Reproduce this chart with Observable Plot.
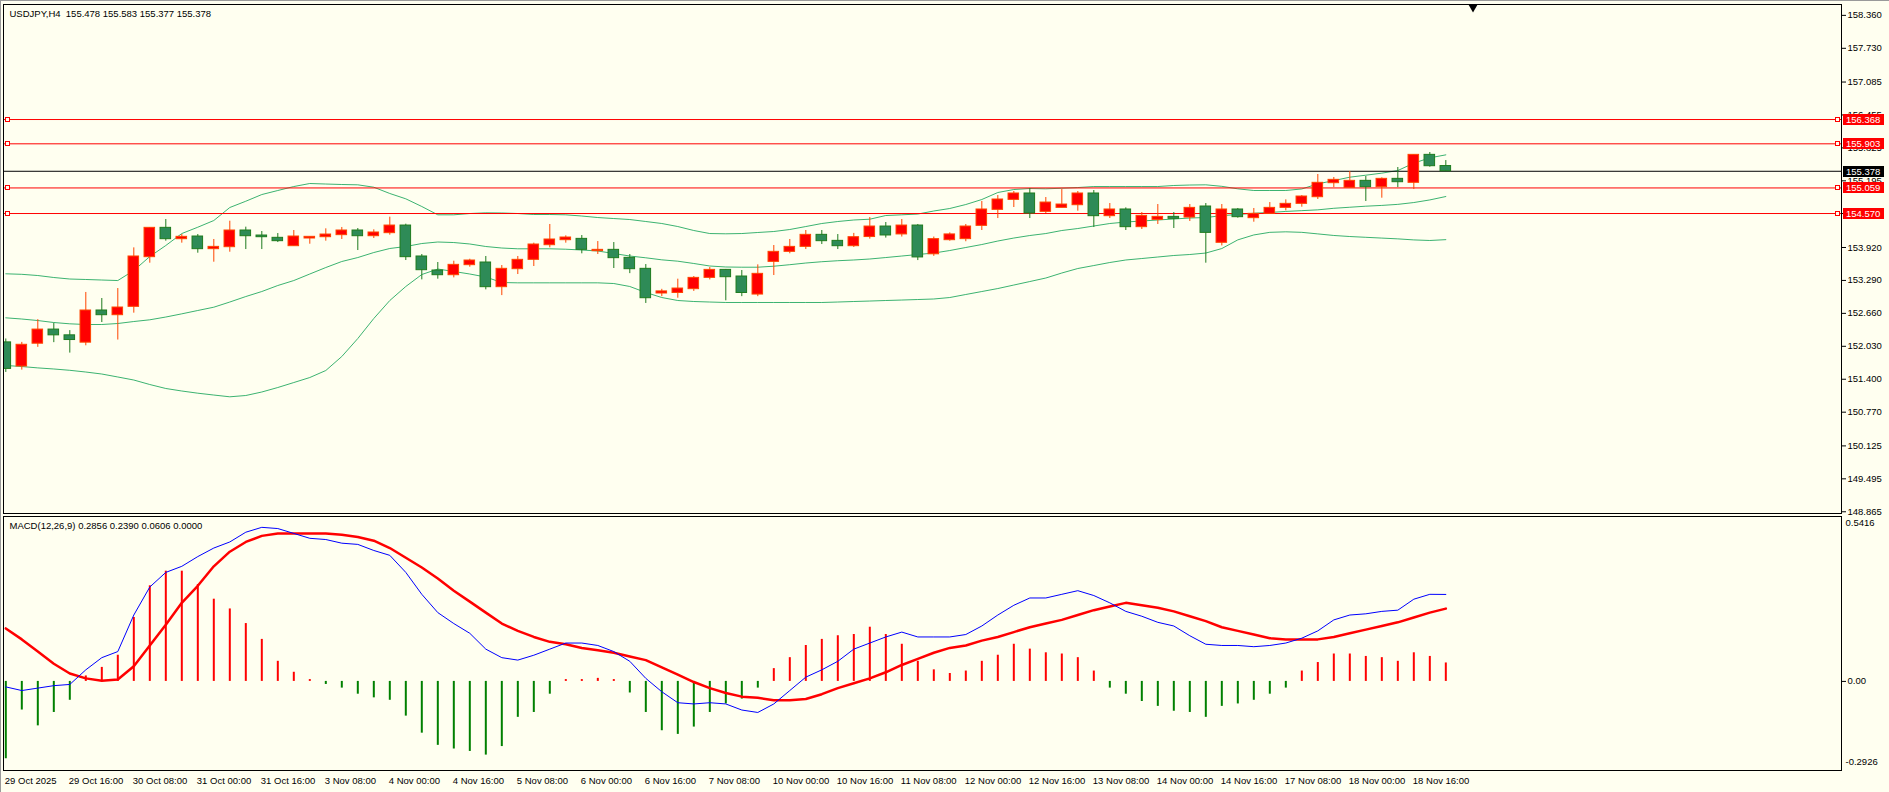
<!DOCTYPE html>
<html><head><meta charset="utf-8">
<script src="https://cdn.jsdelivr.net/npm/d3@7"></script>
<script src="https://cdn.jsdelivr.net/npm/@observablehq/plot@0.6"></script>
<style>
html,body{margin:0;padding:0;background:#FFFFF0;}
#wrap{position:relative;width:1889px;height:792px;overflow:hidden;background:#FFFFF0;}
#wrap svg{display:block;overflow:visible;}
.edgeTop{position:absolute;left:0;top:0;width:1889px;height:1px;background:#9A9A9A;}
.edgeLeft{position:absolute;left:0;top:0;width:1px;height:792px;background:#9A9A9A;}
</style></head><body>
<div id="wrap"><div class="edgeTop"></div><div class="edgeLeft"></div></div>
<script>
// ---------------- data ----------------
const symbolTitle = "USDJPY,H4  155.478 155.583 155.377 155.378";
const macdTitle = "MACD(12,26,9) 0.2856 0.2390 0.0606 0.0000";

const open = [
152.105,151.644,152.08,152.35,152.24,152.10,152.715,152.625,152.785,153.735,
154.296,154.079,154.130,153.888,153.926,154.245,154.149,154.105,153.945,154.092,
154.117,154.156,154.245,154.136,154.194,154.340,153.748,153.480,153.390,153.582,
153.633,153.161,153.505,153.684,153.964,154.060,154.085,153.850,153.875,153.722,
153.512,153.04,153.05,153.123,153.339,153.492,153.365,153.02,153.645,153.837,
153.932,154.162,154.047,153.945,154.12,154.321,154.17,154.340,153.79,154.06,
154.08,154.334,154.640,154.831,154.953,154.602,154.678,154.729,154.953,154.519,
154.647,154.309,154.449,154.506,154.493,154.704,154.01,154.647,154.481,154.564,
154.678,154.755,154.882,155.150,155.061,155.195,155.074,155.233,155.157,155.692,
155.478];
const high = [
152.17,152.105,152.54,152.47,152.33,153.06,152.944,153.135,153.913,154.30,
154.455,154.168,154.168,154.073,154.423,154.309,154.226,154.187,154.245,154.124,
154.277,154.303,154.283,154.258,154.500,154.366,153.786,153.633,153.658,153.696,
153.748,153.575,153.748,154.003,154.360,154.143,154.149,154.034,154.015,153.786,
153.594,153.12,153.314,153.365,153.537,153.50,153.480,153.588,153.958,154.073,
154.245,154.245,154.168,154.19,154.493,154.398,154.455,154.36,154.12,154.20,
154.36,154.800,154.914,154.991,155.048,154.876,155.029,154.991,155.010,154.761,
154.678,154.589,154.742,154.589,154.742,154.761,154.742,154.666,154.666,154.780,
154.831,154.914,155.316,155.259,155.373,155.278,155.252,155.450,155.692,155.737,
155.583];
const low = [
151.53,151.575,152.01,152.10,151.90,152.04,152.485,152.15,152.664,153.620,
154.041,154.003,153.811,153.639,153.830,153.881,153.881,154.015,153.945,153.983,
154.041,154.073,153.862,154.092,154.156,153.671,153.301,153.314,153.339,153.543,
153.110,153.00,153.403,153.556,153.913,154.003,153.799,153.786,153.518,153.42,
152.85,152.98,152.95,153.08,153.30,152.90,152.98,152.98,153.384,153.80,
153.881,153.977,153.881,153.92,154.08,154.10,154.12,153.67,153.75,154.04,
154.03,154.245,154.474,154.685,154.474,154.570,154.678,154.615,154.302,154.474,
154.245,154.264,154.360,154.283,154.417,153.62,153.95,154.481,154.404,154.56,
154.621,154.691,154.838,155.067,155.061,154.800,154.863,155.067,155.029,155.456,
155.377];
const close = [
151.598,152.059,152.35,152.24,152.15,152.715,152.625,152.772,153.748,154.296,
154.079,154.124,153.888,153.932,154.245,154.136,154.117,154.041,154.130,154.124,
154.168,154.245,154.136,154.207,154.340,153.735,153.486,153.390,153.588,153.671,
153.161,153.512,153.684,153.977,154.073,154.111,153.875,153.875,153.716,153.505,
152.95,153.08,153.135,153.339,153.492,153.352,153.05,153.416,153.837,153.932,
154.162,154.041,153.945,154.117,154.321,154.15,154.340,153.73,154.08,154.17,
154.321,154.647,154.838,154.953,154.570,154.780,154.742,154.953,154.519,154.647,
154.309,154.525,154.506,154.468,154.678,154.20,154.647,154.500,154.564,154.678,
154.755,154.895,155.157,155.214,155.195,155.074,155.233,155.169,155.692,155.475,
155.378];

const bbUpper = [
153.417,153.407,153.384,153.346,153.317,153.308,153.298,153.288,153.480,153.747,
153.958,154.187,154.308,154.436,154.685,154.805,154.933,155.010,155.086,155.144,
155.134,155.125,155.119,155.073,154.953,154.851,154.704,154.545,154.545,154.570,
154.583,154.580,154.570,154.551,154.551,154.545,154.522,154.493,154.474,154.455,
154.417,154.379,154.321,154.245,154.187,154.182,154.187,154.207,154.226,154.264,
154.321,154.379,154.417,154.446,154.461,154.532,154.545,154.560,154.618,154.666,
154.742,154.838,154.972,155.029,155.048,155.042,155.054,155.067,155.086,155.086,
155.086,155.086,155.086,155.106,155.115,155.119,155.090,155.042,155.010,155.010,
155.010,155.040,155.137,155.200,155.265,155.303,155.342,155.392,155.533,155.635,
155.692];
const bbMiddle = [
152.575,152.552,152.523,152.485,152.460,152.447,152.447,152.466,152.504,152.537,
152.590,152.651,152.715,152.778,152.877,152.982,153.078,153.193,153.288,153.413,
153.537,153.652,153.728,153.824,153.901,153.939,153.996,154.025,154.015,153.987,
153.939,153.910,153.895,153.895,153.895,153.887,153.872,153.853,153.805,153.757,
153.723,153.684,153.658,153.614,153.566,153.547,153.543,153.543,153.562,153.591,
153.623,153.648,153.667,153.681,153.700,153.728,153.757,153.786,153.814,153.862,
153.920,153.977,154.044,154.101,154.149,154.187,154.245,154.283,154.331,154.379,
154.407,154.427,154.446,154.465,154.484,154.493,154.530,154.550,154.575,154.590,
154.610,154.625,154.640,154.670,154.690,154.710,154.725,154.745,154.780,154.830,
154.895];
const bbLower = [
151.663,151.643,151.617,151.596,151.571,151.538,151.500,151.443,151.385,151.299,
151.223,151.175,151.133,151.098,151.064,151.089,151.156,151.242,151.337,151.433,
151.567,151.835,152.179,152.562,152.906,153.174,153.403,153.508,153.461,153.413,
153.355,153.250,153.244,153.244,153.244,153.244,153.244,153.244,153.231,153.174,
153.059,152.963,152.906,152.887,152.877,152.868,152.868,152.868,152.868,152.868,
152.868,152.868,152.877,152.887,152.896,152.906,152.915,152.925,152.935,152.963,
153.021,153.078,153.135,153.202,153.269,153.336,153.432,153.518,153.575,153.633,
153.681,153.709,153.738,153.767,153.786,153.814,153.900,154.066,154.160,154.210,
154.220,154.210,154.180,154.150,154.130,154.115,154.100,154.085,154.065,154.054,
154.070];

const macdLine = [
-0.018,-0.030,-0.022,-0.014,-0.010,0.038,0.078,0.098,0.218,0.310,
0.358,0.378,0.410,0.438,0.458,0.490,0.506,0.502,0.486,0.470,
0.466,0.454,0.450,0.430,0.414,0.358,0.286,0.226,0.190,0.158,
0.106,0.078,0.070,0.086,0.106,0.126,0.126,0.118,0.098,0.066,
0.010,-0.034,-0.070,-0.074,-0.070,-0.074,-0.094,-0.102,-0.074,-0.030,
0.014,0.038,0.066,0.106,0.126,0.146,0.162,0.146,0.146,0.146,
0.154,0.182,0.218,0.250,0.274,0.274,0.286,0.298,0.282,0.258,
0.230,0.214,0.194,0.182,0.150,0.122,0.118,0.118,0.114,0.118,
0.126,0.142,0.166,0.202,0.218,0.222,0.230,0.234,0.270,0.286,
0.2856];
const signalLine = [
0.174,0.138,0.098,0.058,0.026,0.010,0.002,0.006,0.050,0.118,
0.186,0.258,0.314,0.378,0.426,0.458,0.478,0.486,0.486,0.486,
0.486,0.482,0.474,0.462,0.438,0.406,0.374,0.338,0.298,0.262,
0.226,0.190,0.166,0.146,0.130,0.122,0.110,0.102,0.094,0.082,
0.070,0.046,0.022,-0.002,-0.022,-0.038,-0.050,-0.054,-0.062,-0.062,
-0.058,-0.042,-0.022,-0.006,0.010,0.030,0.054,0.074,0.094,0.110,
0.118,0.134,0.146,0.162,0.178,0.190,0.202,0.218,0.234,0.246,
0.258,0.250,0.242,0.230,0.214,0.198,0.178,0.166,0.154,0.142,
0.138,0.138,0.138,0.146,0.158,0.170,0.182,0.194,0.210,0.226,
0.239];
const histogram = [
-0.254,-0.094,-0.146,-0.102,-0.062,0.018,0.046,0.086,0.210,0.314,
0.362,0.362,0.318,0.270,0.238,0.190,0.138,0.066,0.030,0.006,
-0.010,-0.022,-0.042,-0.054,-0.062,-0.114,-0.170,-0.210,-0.222,-0.230,
-0.242,-0.214,-0.118,-0.102,-0.042,0.006,0.006,0.010,0.006,-0.038,
-0.102,-0.162,-0.174,-0.150,-0.102,-0.074,-0.058,-0.022,0.042,0.078,
0.118,0.138,0.150,0.154,0.178,0.154,0.122,0.066,0.038,0.026,
0.034,0.066,0.086,0.122,0.106,0.094,0.090,0.078,0.034,-0.022,
-0.042,-0.066,-0.082,-0.098,-0.102,-0.118,-0.082,-0.074,-0.062,-0.042,
-0.022,0.034,0.062,0.090,0.090,0.082,0.078,0.066,0.094,0.082,
0.0606];

const priceTicks = [158.360,157.730,157.085,156.455,155.825,155.195,154.570,153.920,153.290,152.660,152.030,151.400,150.770,150.125,149.495,148.865];
const levels = [156.368,155.903,155.059,154.570];
const bid = 155.378;
const macdRange = [-0.2926, 0.5416];
const timeLabels = ["29 Oct 2025","29 Oct 16:00","30 Oct 08:00","31 Oct 00:00","31 Oct 16:00","3 Nov 08:00","4 Nov 00:00","4 Nov 16:00","5 Nov 08:00","6 Nov 00:00","6 Nov 16:00","7 Nov 08:00","10 Nov 00:00","10 Nov 16:00","11 Nov 08:00","12 Nov 00:00","12 Nov 16:00","13 Nov 08:00","14 Nov 00:00","14 Nov 16:00","17 Nov 08:00","18 Nov 00:00","18 Nov 16:00"];
const barsPerLabel = 4;
const chartShiftBar = 91.7;

// ---------------- build ----------------
const bars = open.map((o, i) => ({
  i, o, h: high[i], l: low[i], c: close[i],
  up: bbUpper[i], mid: bbMiddle[i], lo: bbLower[i],
  m: macdLine[i], s: signalLine[i], hs: histogram[i]
}));
const timeTicks = timeLabels.map((t, k) => ({t, i: k * barsPerLabel}));

const FONT = "'Liberation Sans', Arial, sans-serif";
const FS = 9.5;
const W = 1889;
const xDomain = [-0.144, 114.73];
const BULL_FILL = "#FF0000", BULL_LINE = "#FF4500";
const BEAR_FILL = "#2E8B57", BEAR_LINE = "#1E7B1E";
const BAND = "#3CB371";

function priceTags(items) {
  return (index, scales, values, dim) => {
    const g = d3.create("svg:g");
    const x0 = dim.width - dim.marginRight + 2;
    for (const t of items) {
      const y = Math.round(scales.y(t.v)) + 0.5;
      g.append("rect").attr("x", x0).attr("y", y - 5.5).attr("width", 41).attr("height", 11).attr("fill", t.bg);
      g.append("text").attr("x", x0 + 3).attr("y", y).attr("dy", "0.35em").attr("text-anchor", "start")
        .attr("fill", "#fff").attr("font-size", FS).attr("font-family", FONT).text(t.v.toFixed(3));
    }
    return g.node();
  };
}

function levelMarkers(vals) {
  return (index, scales, values, dim) => {
    const g = d3.create("svg:g").attr("shape-rendering", "crispEdges");
    const xl = dim.marginLeft + 2, xr = dim.width - dim.marginRight - 6;
    for (const v of vals) {
      const y = Math.round(scales.y(v));
      for (const x of [xl, xr]) {
        g.append("rect").attr("x", x + 0.5).attr("y", y - 2 + 0.5).attr("width", 4).attr("height", 4)
          .attr("fill", "#FFFFF0").attr("stroke", "#FF0000").attr("stroke-width", 1);
      }
    }
    return g.node();
  };
}

const tagItems = [
  ...levels.map(v => ({v, bg: "#FF0000"})),
  {v: bid, bg: "#000000"}
];

const main = Plot.plot({
  width: W, height: 515,
  marginTop: 4, marginBottom: 2, marginLeft: 3, marginRight: 48,
  style: {background: "transparent", fontFamily: FONT, fontSize: FS + "px", color: "#000", overflow: "visible"},
  x: {domain: xDomain, axis: null},
  y: {domain: [148.832, 158.568], axis: null},
  marks: [
    Plot.line(bars, {x: "i", y: "up", stroke: BAND, strokeWidth: 1, clip: true}),
    Plot.line(bars, {x: "i", y: "mid", stroke: BAND, strokeWidth: 1, clip: true}),
    Plot.line(bars, {x: "i", y: "lo", stroke: BAND, strokeWidth: 1, clip: true}),
    Plot.ruleY(levels, {stroke: "#FF0000", strokeWidth: 1}),
    Plot.ruleY([bid], {stroke: "#000", strokeWidth: 1}),
    Plot.ruleX(bars, {x: "i", y1: "l", y2: "h", stroke: d => d.c > d.o ? BULL_LINE : BEAR_LINE, strokeWidth: 1, clip: true}),
    Plot.rect(bars, {
      x1: d => d.i - 0.33, x2: d => d.i + 0.33,
      y1: "o", y2: "c",
      fill: d => d.c > d.o ? BULL_FILL : BEAR_FILL,
      stroke: d => d.c > d.o ? BULL_LINE : BEAR_LINE,
      strokeWidth: 1, clip: true
    }),
    levelMarkers(levels),
    Plot.frame({stroke: "#000", strokeWidth: 1}),
    Plot.axisY(priceTicks, {anchor: "right", tickSize: 4, tickPadding: 2, label: null, tickFormat: d => d.toFixed(3), fontSize: FS, stroke: "#000"}),
    priceTags(tagItems),
    Plot.text([symbolTitle], {frameAnchor: "top-left", dx: 6, dy: 9, textAnchor: "start", lineAnchor: "middle", fill: "#000", fontSize: FS}),
    Plot.dot([chartShiftBar], {x: d => d, frameAnchor: "top", dy: 3, symbol: "triangle", rotate: 180, r: 3.2, fill: "#000", stroke: "none"})
  ]
});

const macd = Plot.plot({
  width: W, height: 277,
  marginTop: 1, marginBottom: 22, marginLeft: 3, marginRight: 48,
  style: {background: "transparent", fontFamily: FONT, fontSize: FS + "px", color: "#000", overflow: "visible"},
  x: {domain: xDomain, axis: null},
  y: {domain: macdRange, axis: null},
  marks: [
    Plot.ruleX(bars, {x: "i", y1: 0, y2: "hs", stroke: d => d.hs >= 0 ? "#FF0000" : "#008000", strokeWidth: 2, clip: true}),
    Plot.line(bars, {x: "i", y: "s", stroke: "#FF0000", strokeWidth: 2.5, clip: true}),
    Plot.line(bars, {x: "i", y: "m", stroke: "#0000FF", strokeWidth: 1, clip: true}),
    Plot.frame({stroke: "#000", strokeWidth: 1}),
    Plot.axisY([0], {anchor: "right", tickSize: 4, tickPadding: 2, label: null, tickFormat: () => "0.00", fontSize: FS}),
    Plot.text([macdRange[1].toFixed(4)], {frameAnchor: "top-right", dx: 4, dy: 6, textAnchor: "start", lineAnchor: "middle", fontSize: FS, fill: "#000"}),
    Plot.text([macdRange[0].toFixed(4)], {frameAnchor: "bottom-right", dx: 4, dy: -9, textAnchor: "start", lineAnchor: "middle", fontSize: FS, fill: "#000"}),
    Plot.text([macdTitle], {frameAnchor: "top-left", dx: 6, dy: 9, textAnchor: "start", lineAnchor: "middle", fill: "#000", fontSize: FS}),
    Plot.text(timeTicks, {x: "i", text: "t", frameAnchor: "bottom", dy: 10, dx: -1, textAnchor: "start", lineAnchor: "middle", fill: "#000", fontSize: FS})
  ]
});

const wrap = document.getElementById("wrap");
wrap.insertBefore(macd, wrap.firstChild);
wrap.insertBefore(main, wrap.firstChild);
</script>
</body></html>
